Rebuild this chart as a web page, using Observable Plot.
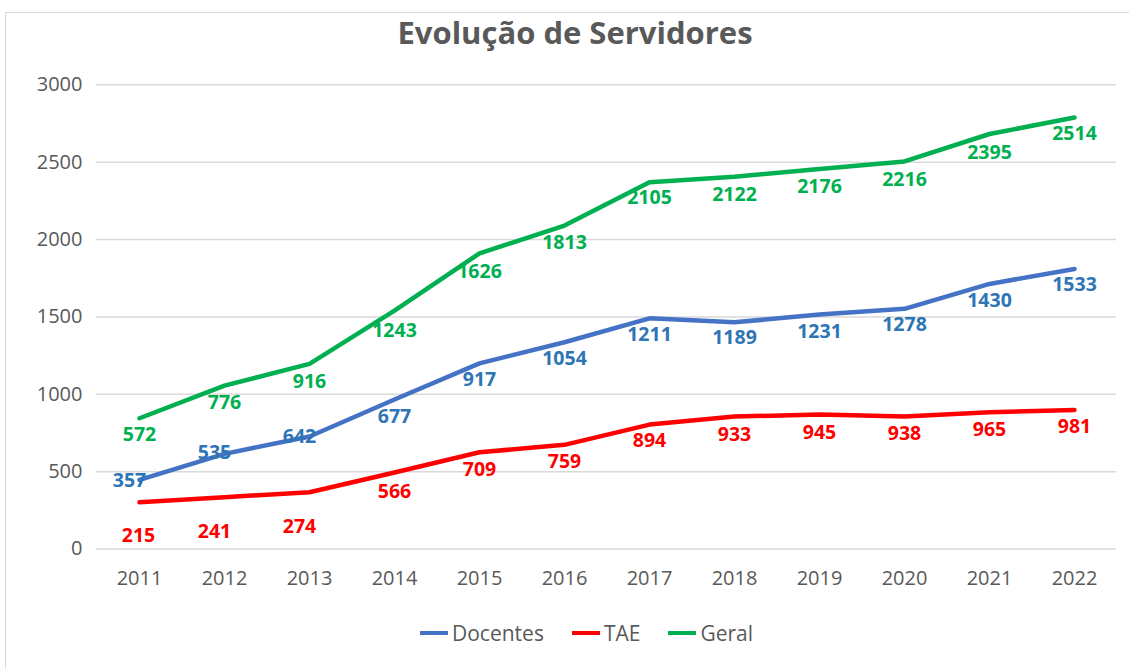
<!DOCTYPE html>
<html>
<head>
<meta charset="utf-8">
<script src="https://cdn.jsdelivr.net/npm/d3@7"></script>
<script src="https://cdn.jsdelivr.net/npm/@observablehq/plot@0.6"></script>
<style>
  html, body { margin: 0; padding: 0; background: #fff; }
  body { width: 1129px; height: 669px; overflow: hidden; position: relative; font-family: "Open Sans", sans-serif; }
  #frame { position: absolute; left: 5px; top: 12px; width: 1140px; height: 680px; border: 1px solid #d9d9d9; box-sizing: border-box; }
  #chart { position: absolute; left: 0; top: 0; }
  #title { position: absolute; left: 0; top: 11px; width: 1150px; text-align: center; font-size: 31px; font-weight: 700; color: #595959; }
  #legend { position: absolute; left: 420px; top: 619px; display: flex; align-items: center; gap: 28px; font-size: 21px; color: #595959; }
  .item { display: flex; align-items: center; gap: 4px; }
  .sw { width: 28px; height: 4px; }
</style>
</head>
<body>
<div id="frame"></div>
<div id="chart"></div>
<div id="title">Evolução de Servidores</div>
<div id="legend"></div>
<script>
// Categories
const years = [2011, 2012, 2013, 2014, 2015, 2016, 2017, 2018, 2019, 2020, 2021, 2022];
const yTicks = [0, 500, 1000, 1500, 2000, 2500, 3000];

// Line values (as drawn)
const docentesLine = [447, 615, 727, 966, 1200, 1336, 1491, 1465, 1515, 1552, 1713, 1810];
const taeLine      = [302, 335, 367, 494, 625, 673, 804, 856, 869, 856, 884, 899];
const geralLine    = [845, 1056, 1196, 1540, 1911, 2090, 2370, 2406, 2456, 2505, 2682, 2789];

// Data labels (as printed)
const docentesLabels = [357, 535, 642, 677, 917, 1054, 1211, 1189, 1231, 1278, 1430, 1533];
const taeLabels      = [215, 241, 274, 566, 709, 759, 894, 933, 945, 938, 965, 981];
const geralLabels    = [572, 776, 916, 1243, 1626, 1813, 2105, 2122, 2176, 2216, 2395, 2514];

const seriesNames = ["Docentes", "TAE", "Geral"];
const lineColors  = {Docentes: "#4472C4", TAE: "#FF0000", Geral: "#00B050"};
const labelColors = {Docentes: "#2E75B6", TAE: "#FF0000", Geral: "#00B050"};

const lines = {Docentes: docentesLine, TAE: taeLine, Geral: geralLine};
const labels = {Docentes: docentesLabels, TAE: taeLabels, Geral: geralLabels};

const rows = [];
for (const s of seriesNames) {
  years.forEach((yr, i) => rows.push({serie: s, year: yr, i, value: lines[s][i], label: labels[s][i]}));
}
const of = (s, f) => rows.filter(d => d.serie === s && f(d));

const labelStyle = (s) => ({x: "year", y: "label", text: d => String(d.label), fill: labelColors[s],
  fontWeight: "bold", fontSize: 19.5, fontFamily: "Open Sans"});

const marks = [
  Plot.gridY(yTicks, {stroke: "#d9d9d9", strokeOpacity: 1, strokeWidth: 1.5}),
  Plot.axisY(yTicks, {tickSize: 0, tickPadding: 14, fill: "#595959", fontSize: 20, label: null, tickFormat: d => String(d)}),
  Plot.axisX({tickSize: 0, tickPadding: 22, fill: "#595959", fontSize: 20, label: null, tickFormat: d => String(d)})
];
for (const s of seriesNames) {
  marks.push(Plot.lineY(rows.filter(d => d.serie === s), {x: "year", y: "value", stroke: lineColors[s], strokeWidth: 4.5, strokeLinejoin: "round"}));
}
// Labels
marks.push(Plot.text(of("Geral", d => true), {...labelStyle("Geral"), dy: -26}));
marks.push(Plot.text(of("Docentes", d => d.i < 3), {...labelStyle("Docentes"), dx: -10, dy: -13}));
marks.push(Plot.text(of("Docentes", d => d.i >= 3), {...labelStyle("Docentes"), dy: -27}));
marks.push(Plot.text(of("TAE", d => d.i === 0), {...labelStyle("TAE"), dx: -1, dy: 20}));
marks.push(Plot.text(of("TAE", d => d.i === 1 || d.i === 2), {...labelStyle("TAE"), dx: -10, dy: 20}));
marks.push(Plot.text(of("TAE", d => d.i >= 3), {...labelStyle("TAE"), dy: 30}));

const chart = Plot.plot({
  width: 1129,
  height: 669,
  marginTop: 84.3,
  marginBottom: 120.5,
  marginLeft: 96,
  marginRight: 13,
  style: {background: "transparent", fontFamily: "Open Sans", color: "#595959"},
  x: {type: "point", domain: years, padding: 0.5},
  y: {domain: [0, 3000]},
  marks
});
document.getElementById("chart").appendChild(chart);

const legend = document.getElementById("legend");
for (const s of seriesNames) {
  const item = document.createElement("div");
  item.className = "item";
  const sw = document.createElement("div");
  sw.className = "sw";
  sw.style.background = lineColors[s];
  const t = document.createElement("span");
  t.textContent = s;
  item.appendChild(sw);
  item.appendChild(t);
  legend.appendChild(item);
}
</script>
</body>
</html>
